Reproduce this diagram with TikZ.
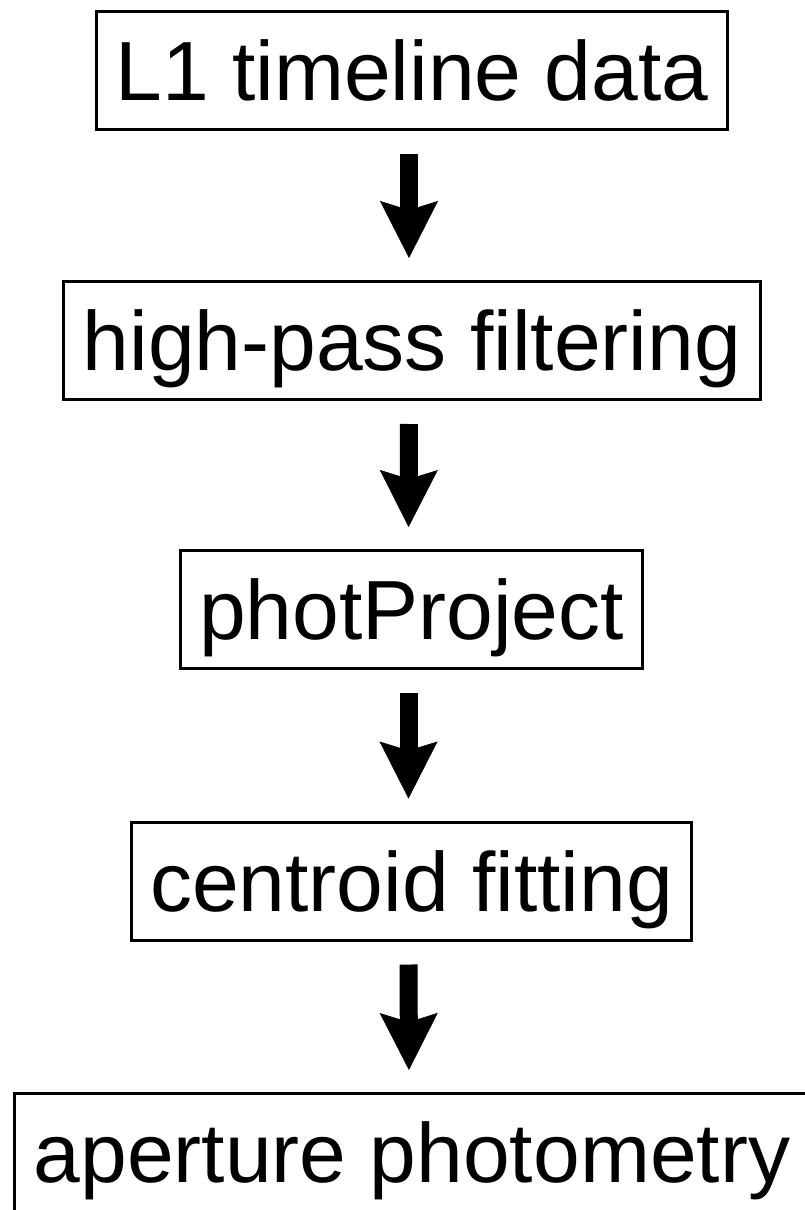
\documentclass[tikz,border=0pt]{standalone}
\usepackage{fontspec}
\setmainfont{Liberation Sans}
\usepackage{tikz}
\usetikzlibrary{arrows.meta}
\tikzset{
    stage/.style={draw=black, line width=3pt, rectangle, inner xsep=19pt,
        inner ysep=29pt, text height=60pt, text depth=0pt,
        font=\fontsize{84pt}{100pt}\selectfont},
    flow/.style={draw=black, line width=18pt, shorten <=23pt, shorten >=22pt,
        -{Stealth[length=57pt, width=58pt, inset=9pt, line width=0.5pt]}}
}
\begin{document}
\begin{tikzpicture}[x=1pt, y=-1pt]
\useasboundingbox (0,0) rectangle (804,1210);
\node[stage] (l1data) at (412, 70.5) {L1 timeline data};
\node[stage] (highpass) at (412, 340.5) {high-pass filtering};
\node[stage] (photproj) at (411.5, 609.5) {photProject};
\node[stage] (centroid) at (411.5, 881) {centroid fitting};
\node[stage] (aperture) at (412, 1152.5) {aperture photometry};
  \draw[flow] ([xshift=-3pt]l1data.south) -- ([xshift=-3pt]highpass.north);
  \draw[flow] ([xshift=-3pt]highpass.south) -- ([xshift=-3pt]photproj.north);
  \draw[flow] ([xshift=-3pt]photproj.south) -- ([xshift=-3pt]centroid.north);
  \draw[flow] ([xshift=-3pt]centroid.south) -- ([xshift=-3pt]aperture.north);
\end{tikzpicture}
\end{document}
